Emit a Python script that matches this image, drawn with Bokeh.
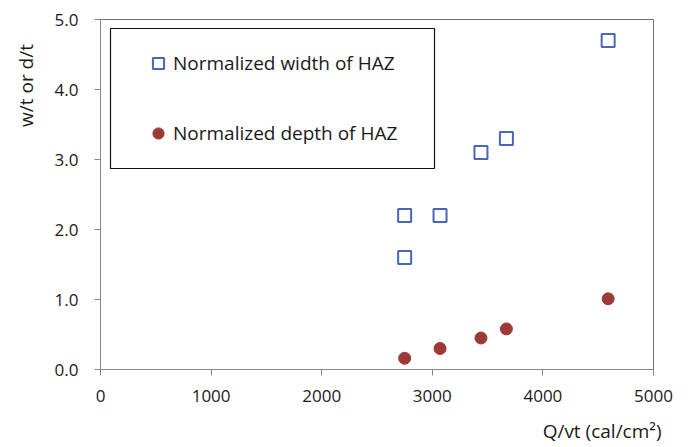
from bokeh.plotting import figure
from bokeh.models import (FixedTicker, NumeralTickFormatter, Legend, LegendItem,
                          BoxAnnotation, Range1d, Label)
from bokeh.embed import file_html
from bokeh.resources import INLINE
import math

# Heat input per unit thickness vs normalized HAZ dimensions
q_width = [2750, 2750, 3070, 3440, 3670, 4590]
w_norm = [2.2, 1.6, 2.2, 3.1, 3.3, 4.7]

q_depth = [2750, 3070, 3440, 3670, 4590]
d_norm = [0.16, 0.30, 0.45, 0.58, 1.01]

x_ticks = [0, 1000, 2000, 3000, 4000, 5000]
y_ticks = [0, 1, 2, 3, 4, 5]

FONT = "Open Sans"
BLUE = "#4a66b8"
RED = "#9e3a36"
TEXT = "#1a1a1a"

p = figure(width=691, height=447, output_backend="svg", toolbar_location=None,
           x_range=Range1d(0, 5000), y_range=Range1d(0, 5),
           min_border_left=100, min_border_right=38,
           min_border_top=19, min_border_bottom=78)

p.xgrid.visible = False
p.ygrid.visible = False
p.outline_line_color = "#6e6e6e"
p.background_fill_color = "white"
p.border_fill_color = "white"

for ax in (p.xaxis, p.yaxis):
    ax.axis_line_color = "#868686"
    ax.major_tick_line_color = "#868686"
    ax.minor_tick_line_color = None
    ax.major_label_text_font = FONT
    ax.major_label_text_font_size = "17px"
    ax.major_label_text_color = TEXT
    ax.major_tick_in = 0
    ax.major_tick_out = 6

p.xaxis.ticker = FixedTicker(ticks=x_ticks)
p.yaxis.ticker = FixedTicker(ticks=y_ticks)
p.yaxis.formatter = NumeralTickFormatter(format="0.0")
p.xaxis.major_label_standoff = 14
p.yaxis.major_label_standoff = 16

r_w = p.scatter(q_width, w_norm, marker="square", size=13, fill_color=None,
                line_color=BLUE, line_width=2)
r_d = p.scatter(q_depth, d_norm, marker="circle", size=12, fill_color=RED,
                line_color=RED)

# legend frame
p.add_layout(BoxAnnotation(left=10, right=334, top=341, bottom=201,
                           left_units="screen", right_units="screen",
                           top_units="screen", bottom_units="screen",
                           fill_color=None, line_color="#111111",
                           line_alpha=1.0, line_width=1.2))

legend = Legend(items=[LegendItem(label="Normalized width of HAZ", renderers=[r_w]),
                       LegendItem(label="Normalized depth of HAZ", renderers=[r_d])],
                location=(44, 221), padding=0, spacing=40,
                glyph_width=28, glyph_height=30, label_height=30,
                label_standoff=1, label_text_font=FONT,
                label_text_font_size="19px", label_text_color=TEXT,
                border_line_alpha=0, background_fill_alpha=0)
p.add_layout(legend, "center")

# axis titles in the side panels, near the top / right ends
p.add_layout(Label(x=0, y=284, x_units="screen", y_units="screen",
                   text="w/t or d/t", angle=math.pi / 2,
                   text_align="center", text_baseline="middle",
                   text_font=FONT, text_font_size="19px", text_color=TEXT), "left")
p.add_layout(Label(x=561, y=0, x_units="screen", y_units="screen",
                   text="Q/vt (cal/cm²)",
                   text_align="right", text_baseline="middle",
                   text_font=FONT, text_font_size="19px", text_color=TEXT), "below")

open("out.html", "w").write(file_html(p, INLINE))
